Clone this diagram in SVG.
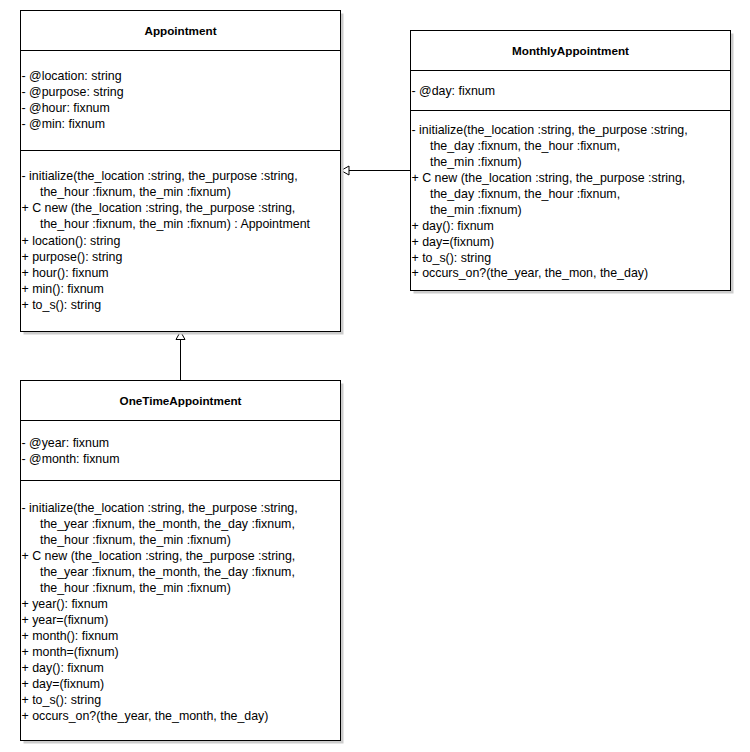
<svg xmlns="http://www.w3.org/2000/svg" width="750" height="752" viewBox="0 0 750 752">
<style>
text{font-family:"Liberation Sans",Arial,sans-serif;font-size:12.4px;fill:#000}
.t{font-weight:bold;text-anchor:middle;font-size:11.7px}
.box{fill:#fff;stroke:#000;stroke-width:1}
.sh{fill:#cccccc}
.div{stroke:#000;stroke-width:1}
.conn{stroke:#000;stroke-width:1;fill:none}
.head{fill:#fff;stroke:#000;stroke-width:1}
</style>
<rect width="750" height="752" fill="#fff"/>
<g id="connectors">
<line class="conn" x1="410.5" y1="170.5" x2="348.5" y2="170.5"/>
<path class="head" d="M341,170.5 L349,166 L349,175 Z"/>
<line class="conn" x1="180.5" y1="380" x2="180.5" y2="339"/>
<path class="head" d="M180.5,331.5 L176,339.5 L185,339.5 Z"/>
</g>
<g id="Appointment">
<rect class="sh" x="23.5" y="13.5" width="320" height="321"/>
<rect class="box" x="20.5" y="10.5" width="320" height="321"/>
<line class="div" x1="20.5" y1="50.5" x2="340.5" y2="50.5"/>
<line class="div" x1="20.5" y1="150.5" x2="340.5" y2="150.5"/>
<text class="t" x="180.5" y="35">Appointment</text>
<text x="21.5" y="80">- @location: string</text>
<text x="21.5" y="96">- @purpose: string</text>
<text x="21.5" y="112">- @hour: fixnum</text>
<text x="21.5" y="128">- @min: fixnum</text>
<text x="21.5" y="180">- initialize(the_location :string, the_purpose :string,</text>
<text x="40" y="196">the_hour :fixnum, the_min :fixnum)</text>
<text x="21.5" y="212">+ C new (the_location :string, the_purpose :string,</text>
<text x="40" y="228">the_hour :fixnum, the_min :fixnum) : Appointment</text>
<text x="21.5" y="245">+ location(): string</text>
<text x="21.5" y="261">+ purpose(): string</text>
<text x="21.5" y="277">+ hour(): fixnum</text>
<text x="21.5" y="293">+ min(): fixnum</text>
<text x="21.5" y="309">+ to_s(): string</text>
</g>
<g id="MonthlyAppointment">
<rect class="sh" x="413.5" y="33.5" width="320" height="260"/>
<rect class="box" x="410.5" y="30.5" width="320" height="260"/>
<line class="div" x1="410.5" y1="70.5" x2="730.5" y2="70.5"/>
<line class="div" x1="410.5" y1="110.5" x2="730.5" y2="110.5"/>
<text class="t" x="570.5" y="55">MonthlyAppointment</text>
<text x="411.5" y="95">- @day: fixnum</text>
<text x="411.5" y="134">- initialize(the_location :string, the_purpose :string,</text>
<text x="430" y="150">the_day :fixnum, the_hour :fixnum,</text>
<text x="430" y="166">the_min :fixnum)</text>
<text x="411.5" y="182">+ C new (the_location :string, the_purpose :string,</text>
<text x="430" y="198">the_day :fixnum, the_hour :fixnum,</text>
<text x="430" y="214">the_min :fixnum)</text>
<text x="411.5" y="230">+ day(): fixnum</text>
<text x="411.5" y="246">+ day=(fixnum)</text>
<text x="411.5" y="262">+ to_s(): string</text>
<text x="411.5" y="277">+ occurs_on?(the_year, the_mon, the_day)</text>
</g>
<g id="OneTimeAppointment">
<rect class="sh" x="23.5" y="383.5" width="320" height="360"/>
<rect class="box" x="20.5" y="380.5" width="320" height="360"/>
<line class="div" x1="20.5" y1="420.5" x2="340.5" y2="420.5"/>
<line class="div" x1="20.5" y1="480.5" x2="340.5" y2="480.5"/>
<text class="t" x="180.5" y="405">OneTimeAppointment</text>
<text x="21.5" y="447">- @year: fixnum</text>
<text x="21.5" y="463">- @month: fixnum</text>
<text x="21.5" y="512">- initialize(the_location :string, the_purpose :string,</text>
<text x="40" y="528">the_year :fixnum, the_month, the_day :fixnum,</text>
<text x="40" y="544">the_hour :fixnum, the_min :fixnum)</text>
<text x="21.5" y="560">+ C new (the_location :string, the_purpose :string,</text>
<text x="40" y="576">the_year :fixnum, the_month, the_day :fixnum,</text>
<text x="40" y="592">the_hour :fixnum, the_min :fixnum)</text>
<text x="21.5" y="608">+ year(): fixnum</text>
<text x="21.5" y="624">+ year=(fixnum)</text>
<text x="21.5" y="640">+ month(): fixnum</text>
<text x="21.5" y="656">+ month=(fixnum)</text>
<text x="21.5" y="672">+ day(): fixnum</text>
<text x="21.5" y="688">+ day=(fixnum)</text>
<text x="21.5" y="704">+ to_s(): string</text>
<text x="21.5" y="720">+ occurs_on?(the_year, the_month, the_day)</text>
</g>
</svg>
